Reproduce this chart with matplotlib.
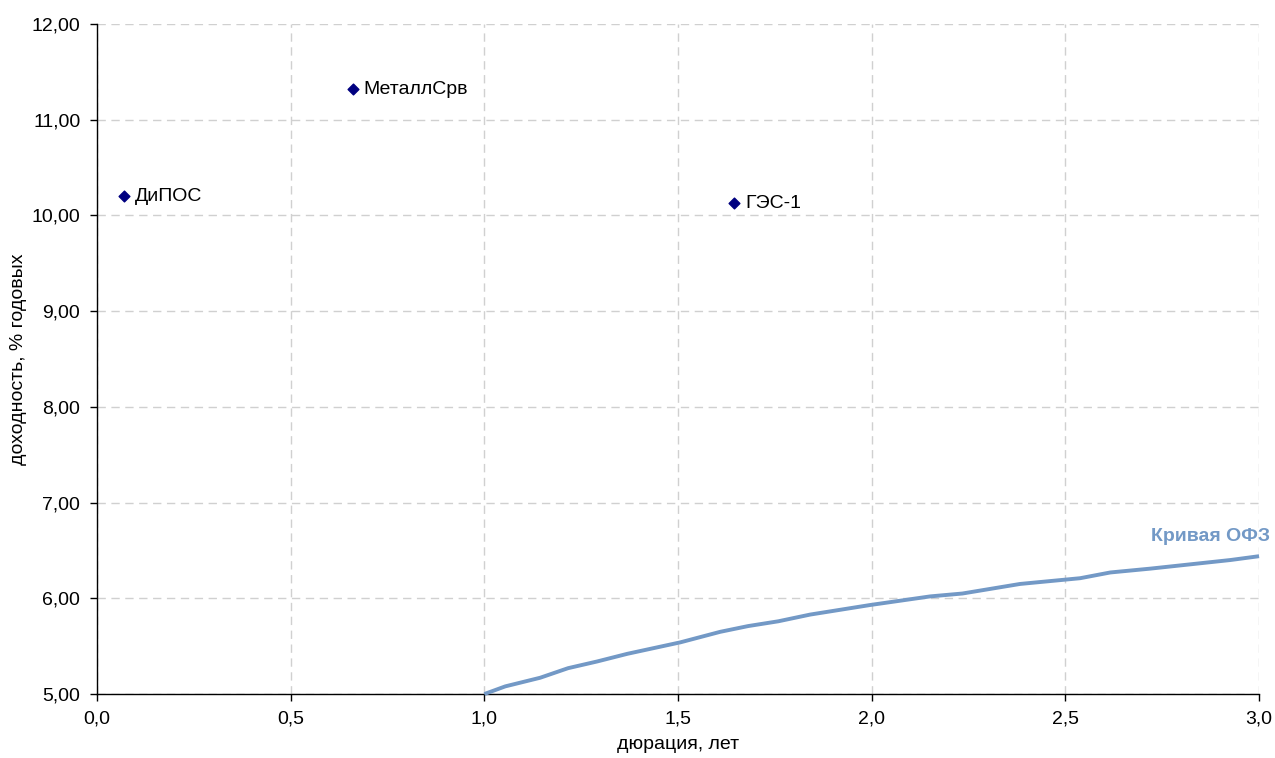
import matplotlib
matplotlib.use("Agg")
import matplotlib.pyplot as plt
from matplotlib.ticker import FuncFormatter

plt.rcParams['font.family'] = ['Liberation Sans', 'DejaVu Sans']
FS = 14

# Issuers
names = ["ДиПОС", "МеталлСрв", "ГЭС-1"]
dur = [0.07, 0.66, 1.645]
ytm = [10.20, 11.32, 10.13]

# OFZ curve
ofz_x = [1.00, 1.054, 1.144, 1.216, 1.291, 1.369, 1.506, 1.609, 1.681, 1.759,
         1.841, 1.996, 2.151, 2.234, 2.383, 2.538, 2.616, 2.719, 2.926, 3.00]
ofz_y = [5.00, 5.08, 5.17, 5.27, 5.34, 5.42, 5.54, 5.65, 5.71, 5.76,
         5.83, 5.93, 6.02, 6.05, 6.15, 6.21, 6.27, 6.31, 6.40, 6.44]

xticks = [0.0, 0.5, 1.0, 1.5, 2.0, 2.5, 3.0]
yticks = [5, 6, 7, 8, 9, 10, 11, 12]

fig = plt.figure(figsize=(12.75, 7.58), dpi=100)
ax = fig.add_axes([0.0761, 0.0844, 0.9114, 0.8839])

ax.plot(ofz_x, ofz_y, color="#7399C6", lw=2.8, solid_capstyle="butt", clip_on=False, zorder=3)
ax.scatter(dur, ytm, marker="D", s=30, color="#000080", zorder=4)
for n, x, y in zip(names, dur, ytm):
    ax.annotate(n, (x, y), xytext=(8, 0), textcoords="offset points",
                va="center", ha="left", fontsize=FS, color="black")
ax.annotate("Кривая ОФЗ", (ofz_x[-1], ofz_y[-1]), xytext=(8, 8), textcoords="offset points",
            ha="right", va="bottom", fontsize=FS, fontweight="bold", color="#7399C6",
            annotation_clip=False)

ax.set_xlim(0, 3)
ax.set_ylim(5, 12)
ax.set_xticks(xticks)
ax.set_yticks(yticks)
ax.xaxis.set_major_formatter(FuncFormatter(lambda v, p: f"{v:.1f}".replace(".", ",")))
ax.yaxis.set_major_formatter(FuncFormatter(lambda v, p: f"{v:.2f}".replace(".", ",")))
ax.tick_params(axis="both", direction="out", length=5, width=1, labelsize=FS, colors="black")
ax.tick_params(axis="x", pad=7)
ax.tick_params(axis="y", pad=7)
ax.grid(True, color="#D0D0D0", linestyle=(0, (6, 4)), linewidth=1)
ax.set_axisbelow(True)
for s in ["top", "right"]:
    ax.spines[s].set_visible(False)
for s in ["left", "bottom"]:
    ax.spines[s].set_color("black")
    ax.spines[s].set_linewidth(1)

ax.set_xlabel("дюрация, лет", fontsize=FS, labelpad=6)
ax.set_ylabel("доходность, % годовых", fontsize=FS, labelpad=3)

fig.savefig("out.png", dpi=100)
